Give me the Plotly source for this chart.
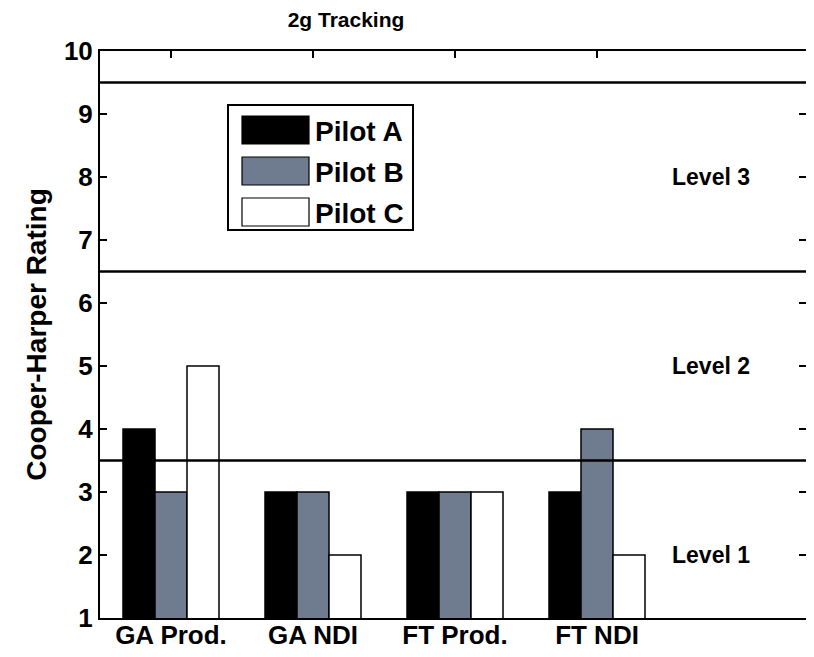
import plotly.graph_objects as go

# data
categories = ["GA Prod.", "GA NDI", "FT Prod.", "FT NDI"]
pilot_a = [4, 3, 3, 3]
pilot_b = [3, 3, 3, 4]
pilot_c = [5, 2, 3, 2]
level_bounds = [3.5, 6.5, 9.5]
level_names = ["Level 1", "Level 2", "Level 3"]
level_label_y = [2, 5, 8]

series = [
    ("Pilot A", pilot_a, "#000000"),
    ("Pilot B", pilot_b, "#6f7c8f"),
    ("Pilot C", pilot_c, "#ffffff"),
]

FONT = "Liberation Sans, Arial, sans-serif"
OFF = 8  # default body margin of the page
W, H = 814 - 2 * OFF, 657 - 2 * OFF
# plot area in page pixels: x 100..806, y 51..618
L, R, T, B = 100 - OFF, 0, 51 - OFF, (H + OFF) - 618
xpos = list(range(1, len(categories) + 1))
xrange_ = [0.5, 0.5 + 706 / 142]

fig = go.Figure()
for name, vals, color in series:
    fig.add_trace(go.Bar(
        x=xpos, y=vals, name=name,
        marker=dict(color=color, line=dict(color="black", width=1.5)),
        showlegend=False,
    ))

# level boundaries
for yb in level_bounds:
    fig.add_shape(type="line", xref="paper", x0=0, x1=1, yref="y", y0=yb, y1=yb,
                  line=dict(color="black", width=2.5), layer="above")

for txt, yy in zip(level_names, level_label_y):
    fig.add_annotation(x=4.8, y=yy, xref="x", yref="y", text="<b>%s</b>" % txt,
                       showarrow=False, yanchor="middle",
                       font=dict(size=23, color="black", family=FONT))

# hand-drawn legend box (page pixels -> paper coords)
def px(x):
    return (x - 100) / 706
def py(y):
    return (618 - y) / 567

fig.add_shape(type="rect", xref="paper", yref="paper",
              x0=px(228), x1=px(413), y0=py(230), y1=py(105),
              line=dict(color="black", width=2), fillcolor="white", layer="above")
for i, (name, vals, color) in enumerate(series):
    cy = 130 + 41 * i
    fig.add_shape(type="rect", xref="paper", yref="paper",
                  x0=px(242), x1=px(309), y0=py(cy + 14), y1=py(cy - 14),
                  line=dict(color="black", width=1.2), fillcolor=color, layer="above")
    fig.add_annotation(x=px(313), y=py(cy + 1), xref="paper", yref="paper",
                       text="<b>%s</b>" % name, showarrow=False,
                       xanchor="left", yanchor="middle",
                       font=dict(size=28, color="black", family=FONT))

# dummy trace so the mirrored tick axes get drawn
fig.add_trace(go.Scatter(x=[None], y=[None], xaxis="x2", yaxis="y2",
                         showlegend=False, hoverinfo="skip"))

fig.update_layout(
    width=W, height=H,
    margin=dict(l=L, r=R, t=T, b=B),
    paper_bgcolor="white", plot_bgcolor="white",
    barmode="group", bargap=0.324, bargroupgap=0,
    title=dict(text="<b>2g Tracking</b>", x=(346 - OFF) / W, xanchor="center",
               y=1 - (20 - OFF) / H, yanchor="middle",
               font=dict(size=21, color="black", family=FONT)),
    font=dict(family=FONT, color="black"),
    xaxis=dict(range=xrange_, tickvals=xpos, automargin=False, ticklabelstandoff=-7,
               ticktext=["<b>%s</b>" % c for c in categories],
               ticks="", showline=True, mirror=True, linecolor="black", linewidth=2,
               showgrid=False, zeroline=False, tickfont=dict(size=26)),
    xaxis2=dict(range=xrange_, overlaying="x", side="top", tickvals=xpos,
                ticks="inside", ticklen=7, tickwidth=2, tickcolor="black",
                showticklabels=False, showline=False, showgrid=False, zeroline=False),
    yaxis=dict(range=[1, 10], ticks="inside", ticklen=7, tickwidth=2,
               tickcolor="black", showline=True, linecolor="black", linewidth=2,
               showgrid=False, zeroline=False, automargin=False,
               tickvals=list(range(1, 11)),
               ticktext=["<b>%d</b>" % v for v in range(1, 11)],
               tickfont=dict(size=26),
               title=dict(text="<b>Cooper-Harper Rating</b>", font=dict(size=28), standoff=9)),
    yaxis2=dict(range=[1, 10], overlaying="y", side="right", tickvals=list(range(1, 11)),
                ticks="inside", ticklen=7, tickwidth=2, tickcolor="black",
                showticklabels=False, showline=False, showgrid=False, zeroline=False),
)

fig.write_html("out.html")
